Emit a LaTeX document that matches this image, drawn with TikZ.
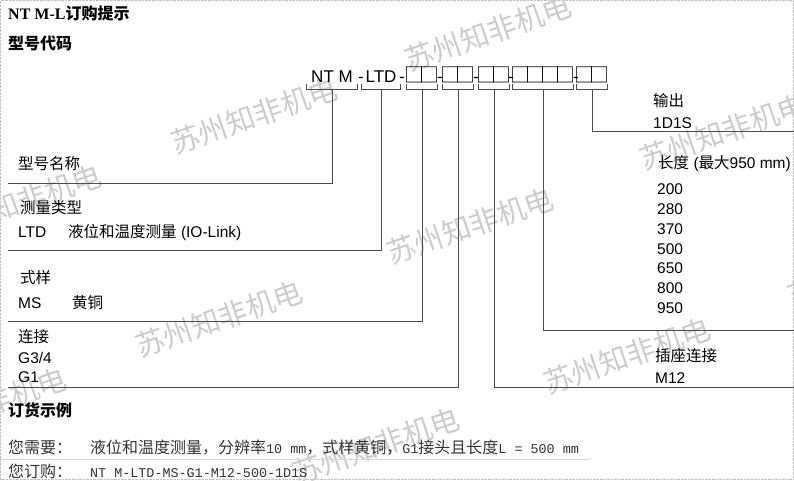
\documentclass[tikz,border=0pt]{standalone}
\usepackage{fontspec}
\setmainfont{Liberation Sans}
\newfontfamily\cjk{Noto Sans CJK SC}
\newfontfamily\titlefont{Liberation Serif}
\newfontfamily\latinmono{Liberation Mono}
\newcommand{\zh}[1]{{\cjk #1}}
\newcommand{\mo}[1]{{\latinmono\fontsize{13.4}{15}\selectfont #1}}
\newcommand{\twobox}{\kern-2.5pt□\kern-5pt□\kern-2.5pt}
\newcommand{\fourbox}{\kern-2.5pt□\kern-5pt□\kern-5pt□\kern-5pt□\kern-2.5pt}

\begin{document}
\begin{tikzpicture}[x=1pt,y=-1pt]
    \tikzstyle{wire}=[draw=black!70,line width=0.9pt]
    \tikzstyle{lbl}=[anchor=base west,inner sep=0pt,font=\fontsize{15.5}{18}\selectfont]
    \tikzstyle{head}=[anchor=base west,inner sep=0pt,font=\bfseries\fontsize{16}{18}\selectfont]
    \tikzstyle{seg}=[anchor=base,inner sep=0pt,font=\fontsize{17}{20}\selectfont]
    \tikzstyle{boxes}=[seg,font=\cjk\fontsize{20}{20}\selectfont]
    \tikzstyle{note}=[anchor=base west,inner sep=0pt,text=black!80,font=\cjk\fontsize{16}{18}\selectfont]
    \tikzstyle{wmk}=[inner sep=0pt,rotate=19,text=black!20,font=\cjk\fontsize{29}{29}\selectfont]

    \useasboundingbox (0,0) rectangle (794,480);
    \draw[black!25,densely dotted] (0.5,0.5) rectangle (793.5,479.5);

    \foreach \num/\x/\y in {1/488/33, 2/254/116, 3/723/132, 4/18/203, 5/470/226, 6/219/319, 7/627/356, 8/-17/406, 9/376/446, 10/871/269}
        \node[wmk] (W-\num) at (\x,\y) {苏州知非机电};

    \node[head] (title) at (8,19) {{\titlefont NT M-L}\zh{订购提示}};
    \node[head] (code) at (8,49) {\zh{型号代码}};

    \node[seg,minimum width=51pt] (C-1) at (332,82) {NT M};
    \node[seg] (D-1) at (361,82) {-};
    \node[seg,minimum width=38pt] (C-2) at (381,82) {LTD};
    \foreach \num/\x in {2/402, 3/440, 4/476, 5/511, 6/576}
        \node[seg] (D-\num) at (\x,82) {-};
    \foreach \num/\x in {3/422, 4/458, 5/494, 7/592}
        \node[boxes] (C-\num) at (\x,82) {\twobox};
    \node[boxes] (C-6) at (543,82) {\fourbox};

    \foreach \num/\x/\y in {1/8/183, 2/8/250, 3/8/321, 4/8/387, 5/794/387, 6/794/330, 7/794/131}
        \coordinate (T-\num) at (\x,\y);
    \foreach \num in {1,...,7}
        \draw[wire] ([yshift=-2pt]C-\num.base west) -- ++(0,-5pt) -| ([yshift=-2pt]C-\num.base east);
    \foreach \num in {1,...,7}
        \draw[wire] ([yshift=-7pt]C-\num.base) |- (T-\num);

    \node[lbl] (N-1) at (18,169) {\zh{型号名称}};
    \node[lbl] (N-2) at (20,213) {\zh{测量类型}};
    \node[lbl] (LTD) at (18,237) {LTD};
    \node[lbl] (LTD-t) at (68,237) {\zh{液位和温度测量} (IO-Link)};
    \node[lbl] (N-3) at (20,283) {\zh{式样}};
    \node[lbl] (MS) at (18,308) {MS};
    \node[lbl] (MS-t) at (72,308) {\zh{黄铜}};
    \node[lbl] (N-4) at (18,342) {\zh{连接}};
    \node[lbl] (G-1) at (18,363) {G3/4};
    \node[lbl] (G-2) at (18,382) {G1};

    \node[lbl] (N-7) at (653,106) {\zh{输出}};
    \node[lbl] (O-1) at (653,128) {1D1S};
    \node[lbl] (N-6) at (658,168) {\zh{长度} (\zh{最大}950 mm)};
    \foreach \num/\y in {200/194, 280/214, 370/234, 500/254, 650/273, 800/293, 950/313}
        \node[lbl] (L-\num) at (657,\y) {\num};
    \node[lbl] (N-5) at (655,361) {\zh{插座连接}};
    \node[lbl] (M12) at (655,383) {M12};

    \node[head] (example) at (8,416) {\zh{订货示例}};
    \node[note] (need) at (8,453) {您需要：};
    \node[note] (need-t) at (90,453) {液位和温度测量，分辨率\mo{10 mm}，式样黄铜，\mo{G1}接头且长度\mo{L = 500 mm}};
    \draw[black!15] (0,459) -- (590,459);
    \node[note] (order) at (8,477) {您订购：};
    \node[note] (order-t) at (90,477) {\mo{NT M-LTD-MS-G1-M12-500-1D1S}};
\end{tikzpicture}
\end{document}
